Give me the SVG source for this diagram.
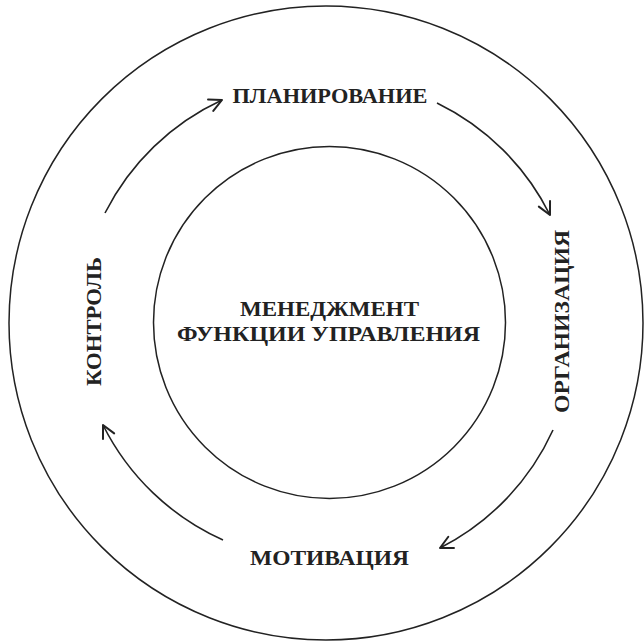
<svg xmlns="http://www.w3.org/2000/svg" width="644" height="644" viewBox="0 0 644 644">
<defs>
<marker id="ah" markerUnits="userSpaceOnUse" markerWidth="20" markerHeight="20" viewBox="-12 -8 16 16" refX="0" refY="0" orient="auto">
<path d="M -10 -5 L 0 0 L -10 5" fill="none" stroke="#222" stroke-width="1.6" stroke-linecap="round" stroke-linejoin="round"/>
</marker>
<style>
.c{fill:none;stroke:#222;stroke-width:1.5}
.a{fill:none;stroke:#222;stroke-width:1.6;marker-end:url(#ah)}
.t{font-family:"Liberation Serif","DejaVu Serif",serif;font-weight:bold;font-size:20px;fill:#222;text-anchor:middle}
</style>
</defs>
<rect width="644" height="644" fill="#fff"/>
<g id="outer"><circle class="c" cx="326" cy="323" r="317"/></g>
<g id="inner">
<circle class="c" cx="329.5" cy="322.5" r="176"/>
<text class="t" x="329.5" y="316" textLength="179" lengthAdjust="spacingAndGlyphs">МЕНЕДЖМЕНТ</text>
<text class="t" x="328.5" y="341" textLength="303" lengthAdjust="spacingAndGlyphs">ФУНКЦИИ УПРАВЛЕНИЯ</text>
</g>
<g id="planirovanie"><text class="t" x="330" y="103" textLength="195" lengthAdjust="spacingAndGlyphs">ПЛАНИРОВАНИЕ</text></g>
<g id="organizaciya"><text class="t" transform="translate(569 321.5) rotate(-90)" x="0" y="0" textLength="183" lengthAdjust="spacingAndGlyphs">ОРГАНИЗАЦИЯ</text></g>
<g id="motivaciya"><text class="t" x="329.5" y="565" textLength="159" lengthAdjust="spacingAndGlyphs">МОТИВАЦИЯ</text></g>
<g id="kontrol"><text class="t" transform="translate(101 321.5) rotate(-90)" x="0" y="0" textLength="129" lengthAdjust="spacingAndGlyphs">КОНТРОЛЬ</text></g>
<g id="connectors">
<path class="a" d="M 105 213 A 247 247 0 0 1 222 100"/>
<path class="a" d="M 437 103 A 247 247 0 0 1 550 215"/>
<path class="a" d="M 553 430 A 247 247 0 0 1 440 548"/>
<path class="a" d="M 223 540 A 247 247 0 0 1 103 425"/>
</g>
</svg>
